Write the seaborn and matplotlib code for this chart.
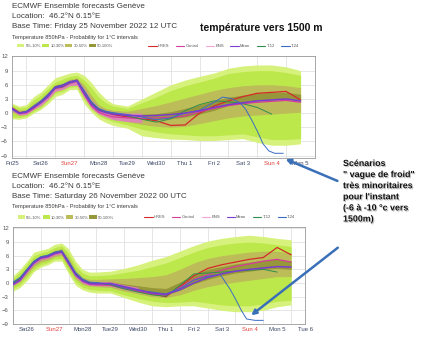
import numpy as np
import matplotlib
matplotlib.use('Agg')
import matplotlib.pyplot as plt
import matplotlib.patheffects as pe
from matplotlib.patches import Patch, FancyArrowPatch
from matplotlib.lines import Line2D
import seaborn as sns

sns.set_style('white')
plt.rcParams['font.family'] = ['Liberation Sans', 'DejaVu Sans']

# ---------------- data (days since Fri 25 Nov 2022 00 UTC) ----------------
day_labels_top = ['Fri25', 'Sat26', 'Sun27', 'Mon28', 'Tue29', 'Wed30', 'Thu 1', 'Fri 2', 'Sat 3', 'Sun 4', 'Mon 5']
day_labels_bot = ['Sat26', 'Sun27', 'Mon28', 'Tue29', 'Wed30', 'Thu 1', 'Fri 2', 'Sat 3', 'Sun 4', 'Mon 5', 'Tue 6']
y_ticks = [-9, -6, -3, 0, 3, 6, 9, 12]
band_labels = ['5%-10%', '10-30%', '30-50%', '50-100%']
line_labels = ['HRES', 'Control', 'ENS', 'Mean', 'T-12', 'T-24']

# top run (base Fri 25 12 UTC)
t_top = [0.5, 0.75, 1.0, 1.25, 1.5, 1.75, 2.0, 2.25, 2.5, 2.75, 3.0, 3.25, 3.5, 3.75, 4.0,
         4.5, 5.0, 5.5, 6.0, 6.5, 7.0, 7.5, 8.0, 8.5, 9.0, 9.5, 10.0, 10.5]
out_lo_top = [-1.2, -1.3, -1.0, 0.0, 0.8, 2.0, 3.5, 4.0, 5.0, 5.0, 2.0, 0.2, -1.2, -2.0, -2.6,
              -3.2, -4.8, -5.2, -5.5, -5.6, -5.8, -5.8, -5.6, -5.4, -6.2, -6.8, -6.8, -6.5]
out_hi_top = [2.1, 1.5, 1.8, 3.5, 4.5, 6.0, 7.5, 8.0, 8.5, 8.7, 8.0, 6.5, 4.5, 3.0, 2.0,
              1.5, 3.0, 4.5, 6.0, 7.0, 7.8, 8.5, 9.5, 10.0, 10.2, 10.2, 9.8, 9.0]
b2_lo_top = [-0.8, -0.9, -0.6, 0.4, 1.2, 2.6, 4.2, 4.6, 5.5, 5.6, 2.8, 0.8, -0.5, -1.2, -1.8,
             -2.5, -3.4, -4.0, -4.4, -4.6, -4.8, -4.8, -4.6, -4.4, -5.0, -5.6, -5.6, -5.4]
b2_hi_top = [1.8, 1.1, 1.3, 2.8, 3.8, 5.2, 6.6, 7.2, 7.8, 8.0, 7.0, 5.4, 3.4, 2.2, 1.5,
             1.0, 2.2, 3.4, 4.8, 5.8, 6.6, 7.4, 8.4, 8.8, 9.0, 9.0, 8.6, 8.0]
b3_lo_top = [0.2, -0.5, -0.2, 0.8, 1.8, 3.2, 4.8, 5.2, 6.0, 6.0, 3.4, 1.2, 0.0, -0.6, -1.2,
             -1.8, -2.4, -2.8, -3.0, -2.8, -2.2, -1.6, -1.0, -0.6, -0.4, -0.2, 0.0, 0.2]
b3_hi_top = [1.4, 0.6, 0.8, 2.0, 3.0, 4.5, 6.0, 6.4, 7.2, 7.4, 6.0, 3.8, 1.8, 1.0, 0.6,
             0.4, 1.0, 1.6, 2.4, 3.2, 4.0, 4.8, 5.4, 5.8, 6.0, 6.0, 5.8, 5.4]
b4_lo_top = [0.5, -0.3, 0.0, 1.0, 2.0, 3.5, 5.1, 5.4, 6.2, 6.3, 3.8, 1.5, 0.2, -0.3, -0.7,
             -1.0, -1.2, -1.4, -1.2, -0.8, -0.2, 0.6, 1.6, 2.2, 2.6, 2.8, 3.0, 2.6]
b4_hi_top = [1.2, 0.3, 0.5, 1.6, 2.6, 4.1, 5.7, 6.0, 6.8, 7.0, 4.8, 2.4, 0.9, 0.4, 0.0,
             -0.2, -0.2, -0.1, 0.3, 1.0, 1.8, 2.6, 3.4, 3.8, 4.2, 4.4, 4.4, 4.0]
t_ens_top = [0.5, 0.75, 1.0, 1.25, 1.5, 1.75, 2.0, 2.25, 2.5, 2.75, 3.0, 3.25, 3.5, 3.75, 4.0, 4.5, 5.0]
ens_lo_top = [0.5, -0.4, -0.3, 0.8, 1.6, 2.9, 4.6, 5.0, 5.8, 5.9, 3.3, 1.0, -0.2, -0.8, -1.4, -1.8, -2.0]
ens_hi_top = [1.3, 0.4, 0.6, 1.8, 2.8, 4.2, 5.8, 6.2, 7.0, 7.2, 5.2, 2.8, 1.2, 0.6, 0.3, 0.0, 0.0]
mean_top = [1.0, 0.0, 0.2, 1.2, 2.2, 3.5, 5.4, 5.7, 6.5, 6.8, 4.2, 1.9, 0.6, 0.1, -0.2,
            -0.5, -0.6, -0.5, -0.3, 0.0, 0.5, 1.2, 1.8, 2.2, 2.6, 2.8, 3.0, 2.6]
hres_top = [1.1, 0.1, 0.3, 1.4, 2.4, 3.8, 5.6, 5.9, 6.6, 7.0, 4.5, 2.2, 0.8, 0.2, -0.3,
            -0.8, -1.2, -1.6, -2.6, -2.5, 0.0, 1.5, 2.6, 3.5, 4.2, 4.4, 4.6, 2.8]
ctrl_top = [0.9, -0.1, 0.1, 1.0, 2.4, 3.9, 5.2, 5.5, 6.3, 6.8, 4.0, 1.6, 0.2, -0.4, -0.8,
            -1.0, -1.1, -1.0, -0.9, -0.6, 0.3, 1.0, 1.6, 2.0, 2.3, 2.5, 2.7, 2.3]
t12_t_top = [0.5, 0.75, 1.0, 1.25, 1.5, 1.75, 2.0, 2.25, 2.5, 2.75, 3.0, 3.25, 3.5, 3.75, 4.0,
             4.5, 5.0, 5.5, 6.0, 6.5, 7.0, 7.5, 8.0, 8.5, 9.0, 9.5]
t12_top = [1.0, 0.1, 0.3, 1.3, 2.3, 3.6, 5.3, 5.6, 6.4, 6.9, 4.4, 2.2, 0.8, 0.3, 0.0,
           -0.6, -1.3, -1.9, -1.2, 0.5, 1.8, 2.6, 2.4, 2.0, 1.2, -0.2]
t24_t_top = [0.5, 0.75, 1.0, 1.25, 1.5, 1.75, 2.0, 2.25, 2.5, 2.75, 3.0, 3.25, 3.5, 3.75, 4.0,
             4.5, 5.0, 5.5, 6.0, 6.5, 7.0, 7.5, 7.8, 8.1, 8.4, 8.6, 8.8, 9.0, 9.2, 9.4, 9.6, 9.9]
t24_top = [0.8, 0.0, 0.4, 1.5, 2.6, 4.0, 5.6, 6.0, 6.7, 7.0, 4.8, 2.4, 1.0, 0.4, 0.1,
           -0.3, -0.8, -1.4, -1.0, 0.0, 0.6, 2.3, 3.4, 3.1, 2.2, 0.8, -1.4, -3.8, -6.5, -8.0, -8.5, -8.5]

# bottom run (base Sat 26 00 UTC)
t_bot = [1.0, 1.25, 1.5, 1.75, 2.0, 2.25, 2.5, 2.75, 3.0, 3.25, 3.5, 3.75, 4.0, 4.5, 5.0,
         5.5, 6.0, 6.5, 7.0, 7.5, 8.0, 8.5, 9.0, 9.5, 10.0, 10.5, 11.0]
out_lo_bot = [-1.8, -1.0, 0.5, 2.5, 3.5, 4.0, 4.8, 4.8, 2.0, -0.5, -1.5, -2.0, -2.2, -2.2, -3.2,
              -4.2, -5.0, -5.2, -5.0, -5.0, -5.5, -6.0, -6.3, -6.3, -6.0, -5.2, -4.8]
out_hi_bot = [1.6, 3.0, 4.8, 6.8, 7.2, 7.6, 8.5, 8.8, 7.5, 4.8, 3.0, 2.4, 2.4, 2.6, 3.2,
              4.0, 5.0, 5.8, 7.0, 8.2, 9.2, 9.8, 10.2, 10.5, 10.2, 9.8, 9.5]
b2_lo_bot = [-1.2, -0.4, 1.2, 3.0, 4.0, 4.5, 5.3, 5.4, 2.6, 0.2, -0.9, -1.4, -1.6, -1.7, -2.6,
             -3.4, -4.0, -4.3, -4.2, -4.0, -4.4, -4.8, -5.0, -5.0, -4.6, -4.0, -3.8]
b2_hi_bot = [1.0, 2.4, 4.2, 6.0, 6.6, 7.0, 7.8, 8.2, 6.6, 3.8, 2.2, 1.6, 1.6, 1.8, 2.3,
             2.8, 3.6, 4.4, 5.6, 6.8, 7.8, 8.4, 8.8, 9.0, 8.8, 8.4, 8.0]
b3_lo_bot = [-0.7, 0.2, 1.8, 3.6, 4.6, 5.0, 5.8, 6.0, 3.4, 0.9, -0.3, -0.7, -0.8, -1.0, -1.8,
             -2.4, -3.0, -3.2, -2.6, -1.6, -0.8, -0.2, 0.2, 0.6, 1.0, 1.4, 1.4]
b3_hi_bot = [0.4, 1.5, 3.4, 5.2, 6.0, 6.4, 7.2, 7.6, 5.6, 2.8, 1.3, 0.8, 0.8, 0.9, 1.0,
             1.2, 1.4, 1.8, 3.0, 4.4, 5.4, 6.0, 6.4, 6.8, 7.0, 7.0, 6.6]
b4_lo_bot = [-0.4, 0.5, 2.3, 4.1, 5.1, 5.5, 6.2, 6.5, 3.9, 1.4, 0.1, -0.3, -0.4, -0.5, -1.2,
             -1.8, -2.4, -2.6, -1.6, -0.2, 0.8, 1.6, 2.2, 2.6, 3.0, 3.2, 3.0]
b4_hi_bot = [0.1, 1.0, 2.9, 4.7, 5.7, 6.1, 6.8, 7.1, 4.9, 2.2, 0.8, 0.3, 0.3, 0.3, -0.2,
             -0.6, -1.0, -1.2, 0.2, 1.8, 3.0, 3.6, 4.2, 4.6, 5.0, 5.2, 4.8]
t_ens_bot = [1.0, 1.25, 1.5, 1.75, 2.0, 2.25, 2.5, 2.75, 3.0, 3.25, 3.5, 3.75, 4.0, 4.5, 5.0, 5.5]
ens_lo_bot = [-0.5, 0.4, 2.3, 4.1, 5.1, 5.4, 6.1, 6.4, 3.9, 1.3, 0.0, -0.5, -0.6, -0.7, -1.4, -2.0]
ens_hi_bot = [0.1, 1.0, 3.0, 4.8, 5.8, 6.2, 6.9, 7.2, 5.0, 2.3, 0.9, 0.3, 0.3, 0.3, -0.4, -0.9]
mean_bot = [-0.3, 0.6, 2.6, 4.4, 5.5, 5.8, 6.5, 6.8, 4.3, 1.8, 0.5, -0.1, -0.2, -0.1, -0.8,
            -1.5, -2.2, -2.5, -1.5, 0.0, 1.2, 2.0, 2.6, 3.0, 3.3, 3.6, 3.5]
hres_bot = [-0.1, 0.9, 2.8, 4.6, 5.6, 5.9, 6.7, 7.0, 4.5, 2.0, 0.6, 0.0, -0.1, -0.3, -1.0,
            -1.8, -2.4, -3.0, -0.8, 1.6, 3.2, 4.0, 4.6, 5.2, 5.6, 7.8, 6.2]
ctrl_bot = [-0.2, 0.7, 2.7, 4.5, 5.4, 5.7, 6.4, 6.9, 4.4, 1.9, 0.4, -0.3, -0.4, -0.5, -1.2,
            -1.8, -2.4, -2.7, -1.0, 0.8, 1.8, 2.8, 3.6, 4.2, 4.8, 5.2, 4.6]
t12_t_bot = [1.0, 1.25, 1.5, 1.75, 2.0, 2.25, 2.5, 2.75, 3.0, 3.25, 3.5, 3.75, 4.0, 4.5, 5.0,
             5.5, 6.0, 6.5, 7.0, 7.5, 8.0, 8.5, 9.0, 9.5, 10.0, 10.5]
t12_bot = [0.0, 1.0, 2.9, 4.7, 5.6, 6.0, 6.6, 7.0, 4.6, 2.1, 0.7, 0.1, 0.0, -0.4, -1.3,
           -2.0, -2.6, -2.9, -0.5, 2.0, 2.2, 2.4, 2.6, 2.8, 3.0, 2.4]
t24_t_bot = [1.0, 1.25, 1.5, 1.75, 2.0, 2.25, 2.5, 2.75, 3.0, 3.25, 3.5, 3.75, 4.0, 4.5, 5.0,
             5.5, 6.0, 6.5, 7.0, 7.5, 8.0, 8.45, 8.8, 9.0, 9.2, 9.4, 9.7, 10.0]
t24_bot = [0.2, 1.2, 3.0, 4.8, 5.8, 6.1, 6.8, 7.1, 4.8, 2.3, 0.9, 0.2, 0.1, -0.2, -1.0,
           -1.6, -2.0, -2.4, -1.2, 0.6, 1.5, 1.9, -1.3, -3.5, -5.9, -7.9, -8.2, -8.2]

# ---------------- styling ----------------
band_colors = ['#d6f27c', '#bde84c', '#bcbc58', '#96963a']
ens_color = '#e27ac4'
line_colors = ['#d42a2a', '#d63c9a', '#f2a6d8', '#7a3cd0', '#2f8f4f', '#3a6cc4']

fig = plt.figure(figsize=(4.4, 3.39), dpi=100)
ax1 = fig.add_axes([12 / 440, 1 - 158 / 339, 303 / 440, 102 / 339])
ax2 = fig.add_axes([13 / 440, 1 - 324 / 339, 292 / 440, 97 / 339])


def draw(ax, t, bands, t_ens, ens, lines, xlim, ylim, labels):
    for (lo, hi), c in zip(bands, band_colors):
        ax.fill_between(t, lo, hi, color=c, lw=0, zorder=1)
    ax.fill_between(t_ens, ens[0], ens[1], color=ens_color, lw=0, alpha=0.85, zorder=2)
    order = [('hres', 0.9), ('ctrl', 0.9), ('t12', 0.7), ('t24', 0.7), ('mean', 1.1)]
    for key, lw in order:
        tx, vy, col = lines[key]
        sns.lineplot(x=tx, y=vy, ax=ax, color=col, lw=lw, legend=False,
                     estimator=None, sort=False, zorder=3)
    ax.set_xlim(*xlim)
    ax.set_ylim(*ylim)
    start = int(np.ceil(xlim[0]))
    ax.set_xticks(np.arange(start, xlim[1] + 0.01, 1.0))
    ax.set_xticklabels([])
    first_noon = np.floor(xlim[0]) + 0.5
    noons = [first_noon + i for i in range(len(labels))]
    ax.set_xticks(noons, minor=True)
    ax.set_xticklabels(labels, minor=True)
    for lab in ax.get_xticklabels(minor=True):
        lab.set_color('#e0403a' if lab.get_text().startswith('Sun') else '#3c4866')
    ax.tick_params(axis='x', which='minor', length=0, labelsize=4.3, pad=2.5)
    ax.tick_params(axis='x', which='major', length=2.5, width=0.5, color='#999999')
    ax.set_yticks(y_ticks)
    ax.tick_params(axis='y', labelsize=4.3, length=2, width=0.5, pad=1,
                   colors='#555555')
    ax.grid(True, which='major', color='#dcdcdc', lw=0.5, zorder=0)
    ax.set_axisbelow(True)
    for s in ax.spines.values():
        s.set_color('#9a9a9a')
        s.set_linewidth(0.6)
    ax.set_xlabel('')
    ax.set_ylabel('')
    # legends
    ph = [Patch(facecolor=c, edgecolor='none') for c in band_colors]
    leg1 = ax.legend(ph, band_labels, loc='center left', bbox_to_anchor=(0.017, 1.098),
                     ncol=4, fontsize=3.0, frameon=False, handlelength=1.7, handleheight=0.9,
                     handletextpad=0.3, columnspacing=0.25, borderpad=0, borderaxespad=0)
    for tx in leg1.get_texts():
        tx.set_color('#555555')
    ax.add_artist(leg1)
    lh = [Line2D([], [], color=c, lw=0.8) for c in line_colors]
    leg2 = ax.legend(lh, line_labels, loc='center left', bbox_to_anchor=(0.45, 1.098),
                     ncol=6, fontsize=3.0, frameon=False, handlelength=2.0,
                     handletextpad=0.3, columnspacing=1.6, borderpad=0, borderaxespad=0)
    for tx in leg2.get_texts():
        tx.set_color('#555555')


draw(ax1, t_top,
     [(out_lo_top, out_hi_top), (b2_lo_top, b2_hi_top), (b3_lo_top, b3_hi_top), (b4_lo_top, b4_hi_top)],
     t_ens_top, (ens_lo_top, ens_hi_top),
     {'hres': (t_top, hres_top, line_colors[0]), 'ctrl': (t_top, ctrl_top, line_colors[1]),
      'mean': (t_top, mean_top, line_colors[3]), 't12': (t12_t_top, t12_top, line_colors[4]),
      't24': (t24_t_top, t24_top, line_colors[5])},
     (0.5, 11.0), (-9.5, 12.1), day_labels_top)

draw(ax2, t_bot,
     [(out_lo_bot, out_hi_bot), (b2_lo_bot, b2_hi_bot), (b3_lo_bot, b3_hi_bot), (b4_lo_bot, b4_hi_bot)],
     t_ens_bot, (ens_lo_bot, ens_hi_bot),
     {'hres': (t_bot, hres_bot, line_colors[0]), 'ctrl': (t_bot, ctrl_bot, line_colors[1]),
      'mean': (t_bot, mean_bot, line_colors[3]), 't12': (t12_t_bot, t12_bot, line_colors[4]),
      't24': (t24_t_bot, t24_bot, line_colors[5])},
     (1.0, 11.5), (-8.2, 12.3), day_labels_bot)

# ---------------- headers ----------------
hdr = '#3a3a3a'
def header(y0, base):
    fig.text(12 / 440, 1 - (y0) / 339, 'ECMWF Ensemble forecasts Genève', fontsize=5.8, color=hdr, va='center')
    fig.text(12 / 440, 1 - (y0 + 9.5) / 339, 'Location:  46.2°N 6.15°E', fontsize=5.8, color=hdr, va='center')
    fig.text(12 / 440, 1 - (y0 + 20) / 339, base, fontsize=5.8, color=hdr, va='center')
    fig.text(12 / 440, 1 - (y0 + 30) / 339, 'Temperature 850hPa - Probability for 1°C intervals',
             fontsize=4.1, color=hdr, va='center')

header(7, 'Base Time: Friday 25 November 2022 12 UTC')
header(177, 'Base Time: Saturday 26 November 2022 00 UTC')

fig.text(200 / 440, 1 - 28 / 339, 'température vers 1500 m', fontsize=7.5, fontweight='bold',
         color='#111111', va='center')

shadow = [pe.SimplePatchShadow(offset=(0.8, -0.8), shadow_rgbFace='#999999', alpha=0.6), pe.Normal()]
fig.text(343 / 440, 1 - 159 / 339,
         'Scénarios\n" vague de froid"\ntrès minoritaires\npour l\'instant\n(-6 à -10 °c vers\n1500m)',
         fontsize=6.4, fontweight='bold', color='#111111', va='top', ha='left',
         linespacing=1.3, path_effects=shadow)

arrow_col = '#3a70b8'
for (x0, y0), (x1, y1) in [((340, 182), (283, 158)), ((340, 246), (249, 317))]:
    fig.add_artist(FancyArrowPatch((x0 / 440, 1 - y0 / 339), (x1 / 440, 1 - y1 / 339),
                                   transform=fig.transFigure, arrowstyle='-|>',
                                   mutation_scale=7, color=arrow_col, lw=1.8))

fig.savefig('out.png', dpi=100)
